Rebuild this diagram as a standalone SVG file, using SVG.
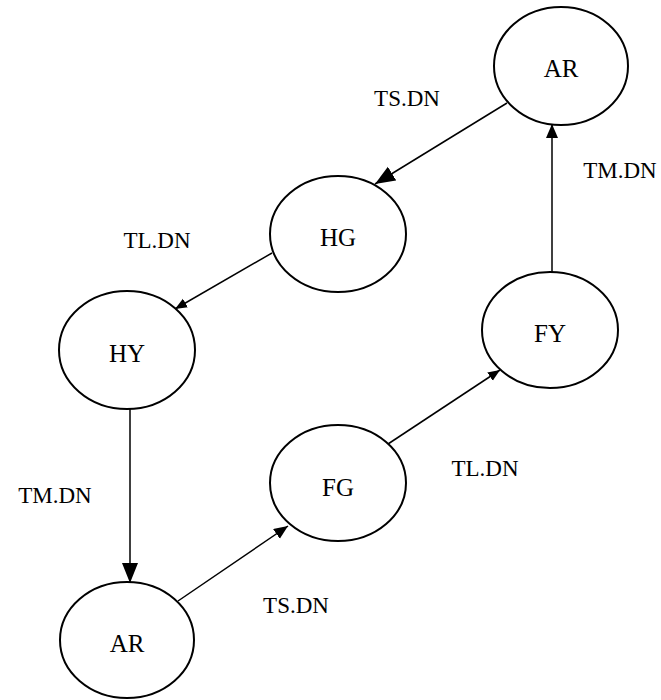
<svg xmlns="http://www.w3.org/2000/svg" width="661" height="700" viewBox="0 0 661 700">
<style>
.node ellipse{fill:#fff;stroke:#000;stroke-width:2}
.node text{font-family:"Liberation Serif","Times New Roman",serif;font-size:25px;text-anchor:middle;fill:#000}
.lbl{font-family:"Liberation Serif","Times New Roman",serif;font-size:23px;text-anchor:middle;fill:#000}
.edge{stroke:#000;stroke-width:1.5;fill:none}
</style>
<defs>
<marker id="big" markerUnits="userSpaceOnUse" markerWidth="22" markerHeight="18" refX="20" refY="8" orient="auto"><path d="M0,0 L20,8 L0,16 z" fill="#000"/></marker>
<marker id="mid" markerUnits="userSpaceOnUse" markerWidth="16" markerHeight="14" refX="14" refY="6" orient="auto"><path d="M0,0 L14,6 L0,12 z" fill="#000"/></marker>
<marker id="small" markerUnits="userSpaceOnUse" markerWidth="14" markerHeight="12" refX="12" refY="5" orient="auto"><path d="M0,0 L12,5 L0,10 z" fill="#000"/></marker>
</defs>
<g id="connectors">
<line class="edge" x1="507" y1="103" x2="375" y2="184" marker-end="url(#big)"/>
<line class="edge" x1="272" y1="253" x2="175" y2="309" marker-end="url(#small)"/>
<line class="edge" x1="130" y1="409" x2="130" y2="583" marker-end="url(#big)"/>
<line class="edge" x1="178" y1="601" x2="288" y2="526" marker-end="url(#mid)"/>
<line class="edge" x1="388" y1="444" x2="500" y2="370" marker-end="url(#small)"/>
<line class="edge" x1="552" y1="272" x2="552" y2="124" marker-end="url(#mid)"/>
</g>
<g id="AR_top" class="node"><ellipse cx="561" cy="66" rx="67" ry="59"/><text x="561" y="77">AR</text></g>
<g id="HG" class="node"><ellipse cx="338" cy="234" rx="68" ry="58"/><text x="338" y="246">HG</text></g>
<g id="HY" class="node"><ellipse cx="127" cy="350" rx="68" ry="59"/><text x="127" y="362">HY</text></g>
<g id="FG" class="node"><ellipse cx="338" cy="483" rx="68" ry="58"/><text x="338" y="496">FG</text></g>
<g id="FY" class="node"><ellipse cx="550" cy="330" rx="68" ry="58"/><text x="550" y="342">FY</text></g>
<g id="AR_bottom" class="node"><ellipse cx="127" cy="640" rx="67" ry="58"/><text x="127" y="652">AR</text></g>
<g id="labels">
<text class="lbl" x="407" y="106">TS.DN</text>
<text class="lbl" x="157" y="248">TL.DN</text>
<text class="lbl" x="620" y="178">TM.DN</text>
<text class="lbl" x="55" y="503">TM.DN</text>
<text class="lbl" x="485" y="476">TL.DN</text>
<text class="lbl" x="296" y="613">TS.DN</text>
</g>
</svg>
